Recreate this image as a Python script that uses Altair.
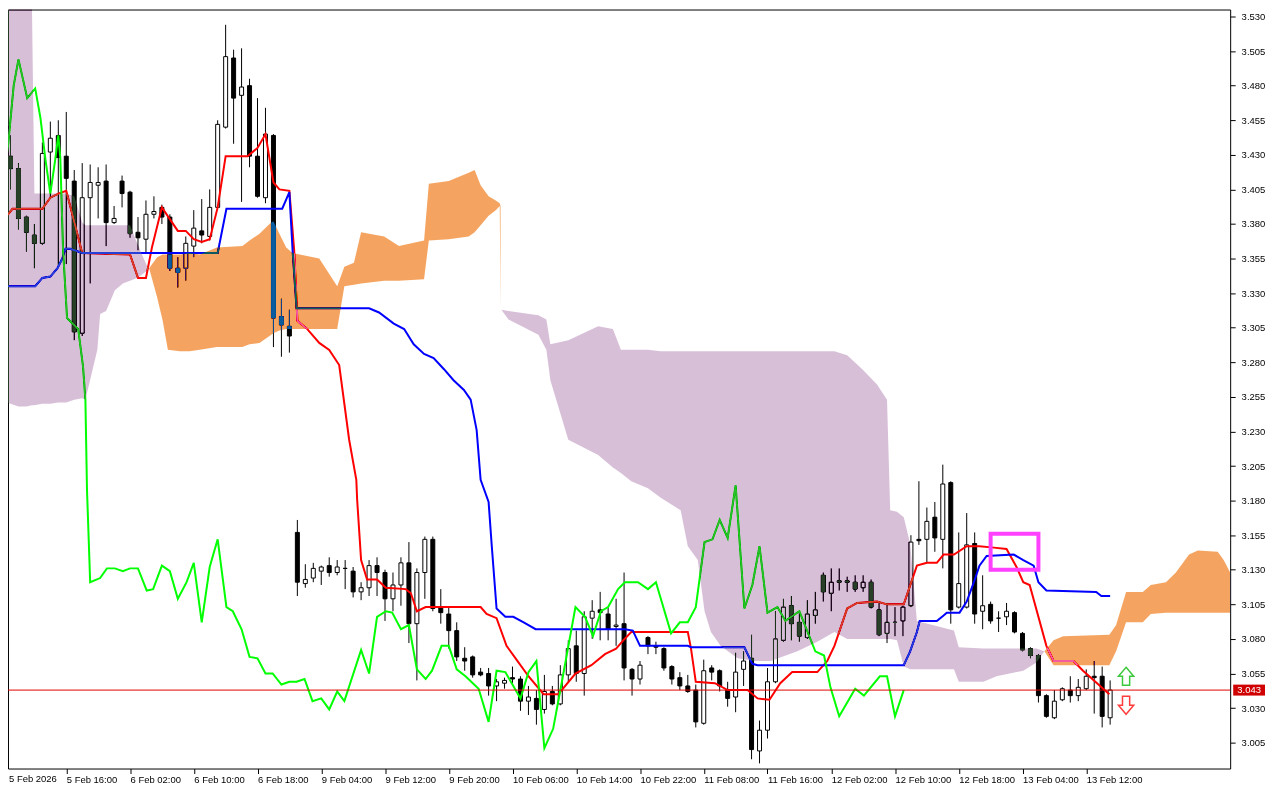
import altair as alt
import pandas as pd

# ---------------- candles (hourly bars, index 0..139) ----------------
OPEN = [
    3.371, 3.429, 3.420, 3.385, 3.372, 3.366, 3.432, 3.444, 3.429, 3.411,
    3.301, 3.399, 3.408, 3.411, 3.381, 3.411, 3.403, 3.374, 3.369, 3.387,
    3.392, 3.385, 3.348, 3.348, 3.364, 3.375, 3.371, 3.392, 3.450, 3.500,
    3.473, 3.480, 3.429, 3.399, 3.444, 3.313, 3.306, 3.157, 3.120, 3.124,
    3.129, 3.133, 3.128, 3.131, 3.129, 3.114, 3.117, 3.133, 3.128, 3.109,
    3.119, 3.135, 3.091, 3.128, 3.152, 3.103, 3.098, 3.086, 3.066, 3.067,
    3.056, 3.055, 3.046, 3.048, 3.052, 3.051, 3.035, 3.037, 3.029, 3.042,
    3.033, 3.054, 3.075, 3.055, 3.095, 3.101, 3.098, 3.089, 3.091, 3.058,
    3.051, 3.081, 3.075, 3.073, 3.060, 3.052, 3.046, 3.043, 3.019, 3.059,
    3.057, 3.043, 3.038, 3.058, 3.066, 2.999, 3.014, 3.049, 3.079, 3.104,
    3.092, 3.081, 3.097, 3.126, 3.113, 3.122, 3.122, 3.121, 3.117, 3.121,
    3.101, 3.084, 3.092, 3.093, 3.104, 3.152, 3.152, 3.168, 3.152, 3.193,
    3.103, 3.103, 3.149, 3.100, 3.105, 3.095, 3.096, 3.099, 3.084, 3.073,
    3.068, 3.039, 3.023, 3.036, 3.043, 3.039, 3.044, 3.053, 3.053, 3.023,
]
HIGH = [
    3.433, 3.444, 3.424, 3.386, 3.380, 3.439, 3.454, 3.455, 3.461, 3.419,
    3.424, 3.423, 3.421, 3.423, 3.393, 3.415, 3.404, 3.385, 3.397, 3.400,
    3.394, 3.387, 3.356, 3.371, 3.390, 3.398, 3.405, 3.455, 3.524, 3.506,
    3.507, 3.485, 3.471, 3.464, 3.445, 3.326, 3.318, 3.166, 3.134, 3.135,
    3.133, 3.139, 3.137, 3.137, 3.132, 3.121, 3.137, 3.139, 3.130, 3.128,
    3.139, 3.150, 3.131, 3.154, 3.154, 3.116, 3.103, 3.092, 3.074, 3.068,
    3.059, 3.059, 3.051, 3.052, 3.060, 3.053, 3.046, 3.043, 3.054, 3.046,
    3.061, 3.079, 3.086, 3.100, 3.108, 3.114, 3.103, 3.109, 3.128, 3.059,
    3.064, 3.082, 3.078, 3.074, 3.061, 3.056, 3.054, 3.047, 3.065, 3.061,
    3.058, 3.049, 3.070, 3.071, 3.083, 3.021, 3.059, 3.100, 3.109, 3.111,
    3.100, 3.108, 3.114, 3.128, 3.131, 3.131, 3.125, 3.126, 3.126, 3.123,
    3.106, 3.106, 3.103, 3.104, 3.155, 3.194, 3.175, 3.179, 3.206, 3.194,
    3.157, 3.171, 3.157, 3.126, 3.107, 3.100, 3.106, 3.100, 3.085, 3.074,
    3.069, 3.040, 3.043, 3.045, 3.053, 3.051, 3.058, 3.064, 3.060, 3.050,
]
LOW = [
    3.368, 3.405, 3.376, 3.360, 3.348, 3.365, 3.399, 3.350, 3.351, 3.296,
    3.299, 3.337, 3.384, 3.364, 3.380, 3.392, 3.370, 3.361, 3.359, 3.384,
    3.380, 3.346, 3.334, 3.339, 3.356, 3.366, 3.368, 3.392, 3.449, 3.438,
    3.396, 3.421, 3.399, 3.395, 3.291, 3.284, 3.287, 3.111, 3.117, 3.121,
    3.119, 3.125, 3.126, 3.116, 3.110, 3.108, 3.111, 3.111, 3.093, 3.100,
    3.104, 3.077, 3.050, 3.109, 3.100, 3.091, 3.073, 3.064, 3.057, 3.052,
    3.053, 3.039, 3.035, 3.044, 3.048, 3.028, 3.025, 3.018, 3.026, 3.032,
    3.032, 3.049, 3.049, 3.039, 3.080, 3.079, 3.079, 3.075, 3.050, 3.039,
    3.047, 3.069, 3.069, 3.057, 3.047, 3.043, 3.041, 3.016, 3.018, 3.050,
    3.042, 3.031, 3.027, 3.046, 2.993, 2.990, 3.008, 3.048, 3.078, 3.079,
    3.078, 3.080, 3.091, 3.107, 3.100, 3.115, 3.114, 3.114, 3.114, 3.102,
    3.082, 3.077, 3.082, 3.082, 3.103, 3.148, 3.135, 3.143, 3.131, 3.091,
    3.102, 3.102, 3.091, 3.087, 3.091, 3.085, 3.090, 3.084, 3.071, 3.066,
    3.034, 3.023, 3.022, 3.035, 3.034, 3.035, 3.043, 3.026, 3.016, 3.018,
]
CLOSE = [
    3.428, 3.420, 3.384, 3.374, 3.366, 3.431, 3.442, 3.428, 3.413, 3.302,
    3.399, 3.410, 3.410, 3.381, 3.384, 3.402, 3.373, 3.370, 3.387, 3.389,
    3.385, 3.348, 3.345, 3.366, 3.377, 3.372, 3.392, 3.452, 3.501, 3.471,
    3.479, 3.429, 3.400, 3.445, 3.312, 3.307, 3.299, 3.121, 3.123, 3.131,
    3.132, 3.128, 3.132, 3.131, 3.114, 3.117, 3.133, 3.128, 3.109, 3.119,
    3.135, 3.091, 3.128, 3.152, 3.102, 3.099, 3.086, 3.067, 3.064, 3.054,
    3.054, 3.046, 3.049, 3.050, 3.051, 3.035, 3.038, 3.029, 3.042, 3.033,
    3.054, 3.073, 3.055, 3.096, 3.100, 3.099, 3.087, 3.090, 3.059, 3.051,
    3.061, 3.075, 3.074, 3.059, 3.051, 3.046, 3.042, 3.020, 3.057, 3.056,
    3.046, 3.037, 3.056, 3.064, 3.000, 3.014, 3.049, 3.080, 3.103, 3.091,
    3.082, 3.098, 3.101, 3.114, 3.121, 3.121, 3.121, 3.116, 3.121, 3.103,
    3.083, 3.092, 3.092, 3.103, 3.150, 3.151, 3.165, 3.153, 3.192, 3.101,
    3.120, 3.148, 3.098, 3.104, 3.093, 3.095, 3.100, 3.085, 3.072, 3.068,
    3.039, 3.024, 3.035, 3.044, 3.039, 3.045, 3.053, 3.052, 3.024, 3.043,
]

# ---------------- Ichimoku lines (vertices: bar index, price) ----------------
TENKAN_BAR = [0, 1.25, 5, 6, 7, 8, 10, 16, 17, 18, 18.75, 20, 22, 23, 24, 25, 26, 27, 28, 30.75,
              32, 33, 34, 34.75, 36, 36.6, 36.9, 37, 38.25, 39.75, 41, 42.25, 43.5, 44.4, 44.5, 45,
              45.75, 47, 48.1, 50.6, 51.25, 52, 53.1, 60, 60.75, 62, 63.25, 64.5, 66, 67.9, 69.75,
              71.9, 73.9, 75.6, 77, 77.9, 78.9, 86, 86.4, 87, 89.4, 91, 93.5, 94.75, 96.25, 97.6,
              99.1, 102.25, 103.5, 104.4, 106, 107.25, 109.75, 111, 113.1, 114.75, 116, 117.25,
              118.1, 119.4, 121, 122.6, 124.4, 126, 127.25, 128.1, 128.9, 131, 131.9, 134.4, 135.6,
              138.9]
TENKAN_VAL = [3.382, 3.391, 3.391, 3.399, 3.402, 3.404, 3.359, 3.358, 3.341, 3.341, 3.363, 3.392,
              3.375, 3.375, 3.369, 3.367, 3.369, 3.392, 3.429, 3.429, 3.435, 3.445, 3.410, 3.405,
              3.404, 3.361, 3.324, 3.310, 3.304, 3.294, 3.289, 3.278, 3.224, 3.195, 3.181, 3.137,
              3.123, 3.123, 3.117, 3.116, 3.113, 3.100, 3.103, 3.103, 3.098, 3.095, 3.075, 3.065,
              3.053, 3.040, 3.040, 3.055, 3.061, 3.069, 3.073, 3.079, 3.085, 3.085, 3.073, 3.049,
              3.048, 3.043, 3.043, 3.037, 3.036, 3.048, 3.056, 3.056, 3.064, 3.075, 3.102, 3.106,
              3.107, 3.105, 3.105, 3.133, 3.135, 3.135, 3.141, 3.141, 3.147, 3.147, 3.146, 3.145,
              3.132, 3.121, 3.119, 3.075, 3.064, 3.064, 3.057, 3.040]

KIJUN_BAR = [0, 4.1, 5, 6, 6.9, 7.5, 7.9, 8.5, 10, 27, 28.1, 35.1, 36, 36.4, 36.9, 46, 47.25, 49.1,
             50.4, 51.6, 52.9, 54.1, 55.4, 56.6, 57.9, 58.75, 59.5, 60, 61, 61.4, 62, 63.1, 64.1,
             65.4, 66.9, 78.1, 79.1, 80, 86, 86.4, 93.1, 94.1, 94.75, 113.1, 113.9, 114.75, 115.1,
             117.25, 118.1, 118.5, 120.1, 121, 121.9, 122.6, 123.5, 126.9, 128.1, 129.4, 130, 131,
             137.25, 137.9, 139]
KIJUN_VAL = [3.335, 3.335, 3.341, 3.342, 3.348, 3.355, 3.362, 3.362, 3.359, 3.359, 3.391, 3.391,
             3.403, 3.361, 3.319, 3.319, 3.316, 3.308, 3.304, 3.293, 3.286, 3.283, 3.275, 3.267,
             3.260, 3.253, 3.231, 3.195, 3.179, 3.147, 3.102, 3.096, 3.096, 3.092, 3.087, 3.087,
             3.086, 3.075, 3.075, 3.074, 3.074, 3.062, 3.061, 3.061, 3.071, 3.085, 3.093, 3.093,
             3.097, 3.099, 3.099, 3.107, 3.121, 3.133, 3.140, 3.141, 3.137, 3.133, 3.121, 3.115,
             3.114, 3.111, 3.111]

CHIKOU_BAR = [0, 0.75, 1.4, 2, 3.1, 4.1, 4.75, 5.4, 6, 6.6, 7, 7.25, 7.6, 8.1, 9.5, 10.1, 10.4,
              10.6, 11, 12.25, 13.1, 14.1, 15.1, 16, 17, 18.1, 18.9, 20, 21, 22, 23.1, 24, 25, 26,
              27, 28.1, 28.9, 30, 31, 32, 33, 33.9, 35, 36, 36.9, 37.9, 38.9, 40, 41, 42, 42.9, 45,
              46, 47, 48.1, 48.9, 50, 51, 52, 53.1, 53.9, 55.1, 56, 57, 58.1, 59.75, 61, 62, 63.1,
              65, 66, 67, 68, 69.1, 70.1, 71.9, 73.1, 74.1, 75.1, 76, 77.25, 78.1, 79.75, 81, 82,
              83.9, 85, 86, 87, 88.1, 89.1, 90, 91, 92, 93.1, 94.1, 95, 96, 97.25, 98.25, 100, 102,
              103.1, 103.9, 105, 107, 108.1, 110.1, 111, 112, 113.1]
CHIKOU_VAL = [3.395, 3.440, 3.480, 3.499, 3.471, 3.478, 3.457, 3.426, 3.402, 3.426, 3.444, 3.428,
              3.361, 3.312, 3.304, 3.277, 3.253, 3.188, 3.121, 3.124, 3.131, 3.131, 3.129, 3.131,
              3.131, 3.115, 3.116, 3.133, 3.129, 3.109, 3.121, 3.135, 3.092, 3.132, 3.152, 3.103,
              3.100, 3.087, 3.067, 3.066, 3.055, 3.055, 3.047, 3.049, 3.049, 3.051, 3.035, 3.037,
              3.029, 3.042, 3.035, 3.072, 3.055, 3.096, 3.100, 3.099, 3.087, 3.090, 3.058, 3.051,
              3.057, 3.075, 3.075, 3.058, 3.053, 3.044, 3.020, 3.057, 3.056, 3.037, 3.056, 3.064,
              3.001, 3.015, 3.046, 3.103, 3.096, 3.082, 3.100, 3.103, 3.116, 3.121, 3.121, 3.116,
              3.121, 3.084, 3.092, 3.092, 3.103, 3.150, 3.152, 3.166, 3.153, 3.191, 3.102, 3.119,
              3.147, 3.099, 3.103, 3.093, 3.100, 3.071, 3.068, 3.045, 3.024, 3.044, 3.039, 3.053,
              3.053, 3.024, 3.043]

# ---------------- Kumo (cloud) regions: bar, upper edge, lower edge ----------------
P1_BAR = [0, 1, 2, 3, 3.7, 4.0, 5, 6, 7, 8, 9, 10, 10.4, 11.9, 12.25, 13, 14.1, 15.1, 16, 16.9, 18.1, 18.4]
P1_TOP = [3.535, 3.535, 3.535, 3.535, 3.535, 3.402, 3.402, 3.402, 3.402, 3.402, 3.400, 3.381,
          3.379, 3.379, 3.379, 3.379, 3.379, 3.379, 3.379, 3.366, 3.350, 3.348]
P1_BOT = [3.253, 3.250, 3.248, 3.248, 3.249, 3.249, 3.250, 3.250, 3.251, 3.251, 3.253, 3.254,
          3.253, 3.289, 3.315, 3.317, 3.332, 3.337, 3.339, 3.341, 3.346, 3.348]

O1_BAR = [18.4, 19.4, 20.1, 20.75, 22.25, 23.5, 24.75, 26.9, 30.1, 31, 32.25, 33.5, 34, 34.75,
          35.6, 36.4, 39.75, 42, 42.9, 44.1, 45, 47.9, 49.75, 52.9, 53.5, 56, 58.5, 59.25, 60, 61,
          61.9, 62.4, 62.5]
O1_TOP = [3.348, 3.356, 3.358, 3.358, 3.358, 3.359, 3.358, 3.363, 3.364, 3.368, 3.373, 3.380,
          3.382, 3.373, 3.363, 3.359, 3.355, 3.335, 3.349, 3.352, 3.374, 3.371, 3.364, 3.368,
          3.409, 3.411, 3.417, 3.419, 3.408, 3.400, 3.397, 3.395, 3.393]
O1_BOT = [3.348, 3.327, 3.310, 3.289, 3.288, 3.288, 3.289, 3.291, 3.291, 3.293, 3.294, 3.299,
          3.301, 3.303, 3.304, 3.304, 3.304, 3.304, 3.335, 3.336, 3.337, 3.339, 3.339, 3.340,
          3.368, 3.369, 3.371, 3.374, 3.379, 3.386, 3.390, 3.393, 3.318]

P2_BAR = [62.6, 63.5, 67.25, 68.25, 68.75, 71, 74.75, 76.6, 77.6, 78.9, 81, 82.6, 85.1, 86, 87.25,
          88.1, 88.9, 90.1, 92.25, 94.4, 96.4, 99.75, 102.25, 104.4, 106, 107.9, 109.75, 111,
          111.4, 112.25, 113.1, 113.9, 114.75, 119.4, 120, 123.1, 124.75, 128.1, 129.75, 130.75]
P2_TOP = [3.318, 3.317, 3.314, 3.311, 3.293, 3.296, 3.306, 3.304, 3.289, 3.289, 3.289, 3.288,
          3.288, 3.288, 3.288, 3.288, 3.288, 3.288, 3.288, 3.288, 3.288, 3.288, 3.288, 3.288,
          3.285, 3.275, 3.264, 3.253, 3.173, 3.172, 3.168, 3.149, 3.093, 3.086, 3.074, 3.073,
          3.073, 3.073, 3.073, 3.071]
P2_BOT = [3.318, 3.311, 3.300, 3.289, 3.267, 3.224, 3.213, 3.204, 3.200, 3.194, 3.189, 3.182,
          3.173, 3.147, 3.137, 3.100, 3.085, 3.075, 3.066, 3.064, 3.064, 3.071, 3.078, 3.085,
          3.080, 3.080, 3.080, 3.080, 3.080, 3.079, 3.060, 3.058, 3.058, 3.058, 3.049, 3.049,
          3.053, 3.057, 3.063, 3.071]

O2_BAR = [130.75, 131.9, 133.1, 138.9, 139.75, 141, 143.1, 144.1, 146, 147.25, 148.9, 150, 152.5,
          153.25, 154.06]
O2_TOP = [3.071, 3.079, 3.082, 3.083, 3.090, 3.114, 3.114, 3.119, 3.121, 3.128, 3.141, 3.144,
          3.143, 3.137, 3.128]
O2_BOT = [3.071, 3.061, 3.061, 3.061, 3.071, 3.092, 3.092, 3.098, 3.099, 3.099, 3.099, 3.099,
          3.099, 3.099, 3.099]

# ---------------- annotations ----------------
BID_PRICE = 3.043
BOX_BARS = [124, 130]
BOX_PRICES = [3.156, 3.130]
ARROW_BAR = 141
ARROW_UP_PRICE = 3.053
ARROW_DOWN_PRICE = 3.032

# ---------------- axis labels ----------------
FIRST_LABEL = "5 Feb 2026"
LABEL_BARS = [8, 16, 24, 32, 40, 48, 56, 64, 72, 80, 88, 96, 104, 112, 120, 128, 136]
LABEL_TEXTS = ["5 Feb 16:00", "6 Feb 02:00", "6 Feb 10:00", "6 Feb 18:00", "9 Feb 04:00",
               "9 Feb 12:00", "9 Feb 20:00", "10 Feb 06:00", "10 Feb 14:00", "10 Feb 22:00",
               "11 Feb 08:00", "11 Feb 16:00", "12 Feb 02:00", "12 Feb 10:00", "12 Feb 18:00",
               "13 Feb 04:00", "13 Feb 12:00"]
Y_TICKS = [3.005, 3.030, 3.055, 3.080, 3.105, 3.130, 3.155, 3.180, 3.205, 3.230, 3.255, 3.280,
           3.305, 3.330, 3.355, 3.380, 3.405, 3.430, 3.455, 3.480, 3.505, 3.530]

# ---------------- layout ----------------
W, H = 1227, 762
X_DOMAIN = [0.6875, 154.0625]
Y_DOMAIN = [2.98629, 3.53504]
FONT = "Liberation Sans"
FS = 9.5

xs = alt.Scale(domain=X_DOMAIN, nice=False, zero=False)
ys = alt.Scale(domain=Y_DOMAIN, nice=False, zero=False)

bars_js = "[" + ",".join(str(b) for b in LABEL_BARS) + "]"
texts_js = "[" + ",".join("'" + t + "'" for t in LABEL_TEXTS) + "]"
x_axis = alt.Axis(values=LABEL_BARS, labelExpr=f"{texts_js}[indexof({bars_js}, datum.value)]",
                  orient="bottom", domain=False, grid=False, ticks=True, tickSize=5,
                  tickColor="black", labelAlign="left", labelBaseline="top", labelPadding=1,
                  labelFont=FONT, labelFontSize=FS, labelColor="black", labelOverlap=False,
                  labelFlush=False, title=None)
y_axis = alt.Axis(values=Y_TICKS, format=".3f", orient="right", domain=False, grid=False,
                  ticks=True, tickSize=5, tickColor="black", labelPadding=6, labelFont=FONT,
                  labelFontSize=FS, labelColor="black", labelOverlap=False, labelFlush=False,
                  title=None)


def X(f):
    return alt.X(f, scale=xs, axis=x_axis)


def Y(f):
    return alt.Y(f, scale=ys, axis=y_axis)


cdf = pd.DataFrame({"bar": list(range(len(OPEN))), "open": OPEN, "high": HIGH,
                    "low": LOW, "close": CLOSE})

wicks = alt.Chart(cdf).mark_rule(color="black", strokeWidth=1).encode(
    x=X("bar:Q"), y=Y("low:Q"), y2="high:Q")

bodies = alt.Chart(cdf).transform_calculate(
    x0="datum.bar - 0.25", x1="datum.bar + 0.25",
    top="max(datum.open, datum.close)", bot="min(datum.open, datum.close)"
).mark_rect(stroke="black", strokeWidth=1).encode(
    x=X("x0:Q"), x2="x1:Q", y=Y("top:Q"), y2="bot:Q",
    fill=alt.condition("datum.close > datum.open", alt.value("white"), alt.value("black")))


def line_layer(bars, vals, color):
    df = pd.DataFrame({"bar": bars, "v": vals})
    return alt.Chart(df).mark_line(color=color, strokeWidth=2).encode(x=X("bar:Q"), y=Y("v:Q"))


tenkan = line_layer(TENKAN_BAR, TENKAN_VAL, "#ff0000")
kijun = line_layer(KIJUN_BAR, KIJUN_VAL, "#0000ff")
chikou = line_layer(CHIKOU_BAR, CHIKOU_VAL, "#00ff00")

# cloud colours: thistle / sandy brown, drawn XOR-like (difference with inverted colour)
INV_THISTLE = "#274027"
INV_SANDY = "#0b5b9f"


def cloud_layer(bars, tops, bots, color):
    df = pd.DataFrame({"bar": bars, "top": tops, "bot": bots})
    return alt.Chart(df).mark_area(color=color, blend="difference", opacity=1).encode(
        x=X("bar:Q"), y=Y("top:Q"), y2="bot:Q")


p1 = cloud_layer(P1_BAR, P1_TOP, P1_BOT, INV_THISTLE)
o1 = cloud_layer(O1_BAR, O1_TOP, O1_BOT, INV_SANDY)
p2 = cloud_layer(P2_BAR, P2_TOP, P2_BOT, INV_THISTLE)
o2 = cloud_layer(O2_BAR, O2_TOP, O2_BOT, INV_SANDY)

pdf = pd.DataFrame({"p": [BID_PRICE]})
price_rule = alt.Chart(pdf).mark_rule(color="#e00000", strokeWidth=1).encode(
    y=Y("p:Q"), x=alt.value(0), x2=alt.value(W))

RECT_PATH = "M-1.45,-0.5L1.45,-0.5L1.45,0.5L-1.45,0.5Z"
price_box = alt.Chart(pdf).mark_point(shape=RECT_PATH, filled=True, color="#d00000",
                                      opacity=1, size=484, strokeWidth=0).encode(
    x=alt.value(W + 19), y=Y("p:Q"))
price_text = alt.Chart(pdf).mark_text(color="white", font=FONT, fontSize=FS, align="center",
                                      baseline="middle").encode(
    x=alt.value(W + 19), y=Y("p:Q"), text=alt.Text("p:Q", format=".3f"))

bdf = pd.DataFrame({"b0": [BOX_BARS[0]], "b1": [BOX_BARS[1]],
                    "t": [BOX_PRICES[0]], "u": [BOX_PRICES[1]]})
box = alt.Chart(bdf).mark_rect(fillOpacity=0, stroke="#ff40ff", strokeWidth=4).encode(
    x=X("b0:Q"), x2="b1:Q", y=Y("t:Q"), y2="u:Q")

UP_PATH = "M0,-1L0.85,0L0.4,0L0.4,1L-0.4,1L-0.4,0L-0.85,0Z"
DOWN_PATH = "M0,1L0.85,0L0.4,0L0.4,-1L-0.4,-1L-0.4,0L-0.85,0Z"
adf_up = pd.DataFrame({"bar": [ARROW_BAR], "p": [ARROW_UP_PRICE]})
adf_dn = pd.DataFrame({"bar": [ARROW_BAR], "p": [ARROW_DOWN_PRICE]})
arrow_up = alt.Chart(adf_up).mark_point(shape=UP_PATH, filled=True, fill="white",
                                        stroke="#3cc83c", strokeWidth=1.5, size=324,
                                        opacity=1).encode(x=X("bar:Q"), y=Y("p:Q"))
arrow_dn = alt.Chart(adf_dn).mark_point(shape=DOWN_PATH, filled=True, fill="white",
                                        stroke="#ff3c3c", strokeWidth=1.5, size=324,
                                        opacity=1).encode(x=X("bar:Q"), y=Y("p:Q"))

first_label = alt.Chart(pd.DataFrame({"t": [FIRST_LABEL]})).mark_text(
    align="left", baseline="top", font=FONT, fontSize=FS, color="black").encode(
    x=alt.value(1), y=alt.value(H + 6), text="t:N")

chart = alt.layer(
    wicks, bodies, tenkan, kijun, chikou, p1, o1, p2, o2,
    price_rule, box, arrow_up, arrow_dn, price_box, price_text, first_label
).properties(
    width=W, height=H, background="white",
    padding={"left": 0, "top": 0, "right": 42, "bottom": 16},
    autosize=alt.AutoSizeParams(type="none"),
).configure_view(stroke="black", strokeWidth=1, fill="white")

chart.save("out.html", embed_options={"renderer": "svg", "actions": False})
